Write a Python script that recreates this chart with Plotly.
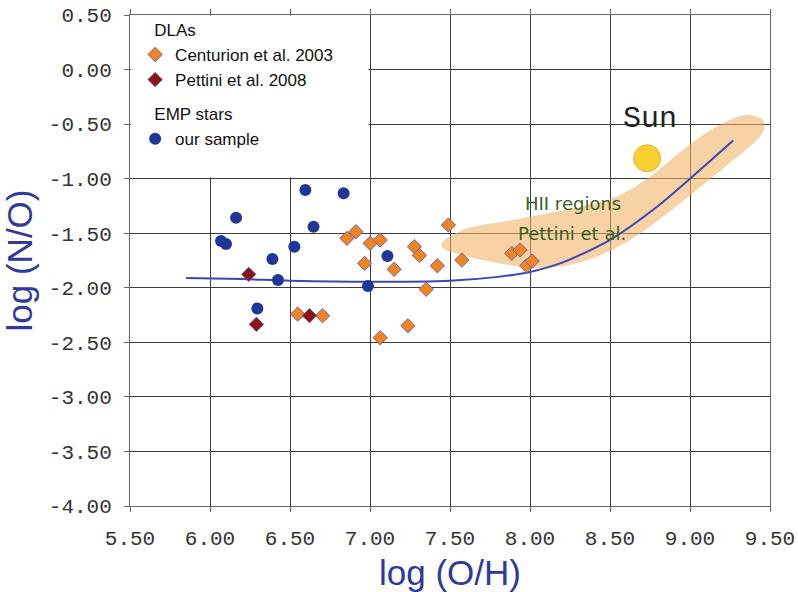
import plotly.graph_objects as go

# ---- data ----
centurion_x = [6.548, 6.704, 6.856, 6.912, 7.001, 7.064, 6.966, 7.151, 7.278, 7.309,
               7.421, 7.490, 7.574, 7.351, 7.237, 7.064, 7.886, 7.938, 7.979, 8.014]
centurion_y = [-2.241, -2.256, -1.547, -1.486, -1.593, -1.562, -1.776, -1.831, -1.624, -1.703,
               -1.798, -1.425, -1.746, -2.014, -2.348, -2.458, -1.684, -1.654, -1.798, -1.755]

pettini_x = [6.242, 6.290, 6.622]
pettini_y = [-1.877, -2.335, -2.256]

emp_x = [6.596, 6.835, 6.163, 6.647, 6.069, 6.100, 6.527, 6.390, 6.425, 6.987, 6.296, 7.109]
emp_y = [-1.104, -1.134, -1.358, -1.440, -1.571, -1.599, -1.624, -1.736, -1.929, -1.984, -2.189, -1.709]

model_x = [5.85, 6.2, 6.5, 7.0, 7.5, 7.8, 8.0, 8.2, 8.5, 8.8, 9.0, 9.27]
model_y = [-1.91, -1.92, -1.935, -1.945, -1.935, -1.90, -1.855, -1.77, -1.56, -1.25, -1.0, -0.65]

hii_band_x = [7.449, 7.582, 7.894, 8.312, 8.541, 8.749, 8.955, 9.165, 9.353, 9.454, 9.467,
              9.436, 9.248, 9.041, 8.830, 8.624, 8.416, 8.206, 8.000, 7.792, 7.582, 7.457, 7.449]
hii_band_y = [-1.593, -1.471, -1.379, -1.257, -1.165, -0.982, -0.737, -0.524, -0.417, -0.462, -0.524,
              -0.615, -0.857, -1.104, -1.349, -1.562, -1.715, -1.800, -1.815, -1.770, -1.705, -1.636, -1.593]

sun_x = [8.732]
sun_y = [-0.813]

x_tickvals = [5.5, 6.0, 6.5, 7.0, 7.5, 8.0, 8.5, 9.0, 9.5]
x_ticktext = ["5.50", "6.00", "6.50", "7.00", "7.50", "8.00", "8.50", "9.00", "9.50"]
y_tickvals = [0.5, 0.0, -0.5, -1.0, -1.5, -2.0, -2.5, -3.0, -3.5, -4.0]
y_ticktext = ["0.50", "0.00", "-0.50", "-1.00", "-1.50", "-2.00", "-2.50", "-3.00", "-3.50", "-4.00"]

NB = "\u00a0"

# ---- figure ----
fig = go.Figure()

fig.add_trace(go.Scatter(
    x=hii_band_x, y=hii_band_y, mode="lines", fill="toself",
    fillcolor="rgba(240,178,98,0.58)", line=dict(width=0, shape="spline", smoothing=1.0),
    showlegend=False, hoverinfo="skip"))

fig.add_trace(go.Scatter(
    x=model_x, y=model_y, mode="lines",
    line=dict(color="#3a47b5", width=2, shape="spline", smoothing=0.8),
    showlegend=False, hoverinfo="skip"))

fig.add_trace(go.Scatter(
    x=sun_x, y=sun_y, mode="markers",
    marker=dict(symbol="circle", size=27, color="#f8cf32", line=dict(color="#efb22e", width=1)),
    showlegend=False))

fig.add_trace(go.Scatter(
    x=emp_x, y=emp_y, mode="markers", name="our sample",
    legendgroup="emp", legendgrouptitle=dict(text=NB * 3 + "EMP stars"), legendrank=3,
    marker=dict(symbol="circle", size=12, color="#22369a", line=dict(width=0))))

fig.add_trace(go.Scatter(
    x=centurion_x, y=centurion_y, mode="markers", name="Centurion et al. 2003",
    legendgroup="dla", legendgrouptitle=dict(text=NB * 3 + "DLAs"), legendrank=1,
    marker=dict(symbol="diamond", size=11, color="#f0841f", line=dict(color="#7a62b0", width=1))))

fig.add_trace(go.Scatter(
    x=pettini_x, y=pettini_y, mode="markers", name="Pettini et al. 2008",
    legendgroup="dla", legendrank=2,
    marker=dict(symbol="diamond", size=11, color="#8c1414", line=dict(color="#6f4f9f", width=1))))

# white legend background between gridlines and traces
fig.add_shape(type="rect", xref="x", yref="y", x0=5.505, x1=6.99, y0=-0.99, y1=0.495,
              fillcolor="white", line=dict(width=0), layer="between")

fig.add_annotation(x=8.749, y=-0.456, text="Sun", showarrow=False,
                   font=dict(family="Liberation Mono", size=30, color="#222222"))
fig.add_annotation(x=8.27, y=-1.226, text="HII regions", showarrow=False,
                   font=dict(family="DejaVu Sans", size=18, color="#365f24"))
fig.add_annotation(x=8.26, y=-1.507, text="Pettini et al.", showarrow=False,
                   font=dict(family="DejaVu Sans", size=18, color="#365f24"))

axis_common = dict(
    showgrid=True, gridcolor="#3c3c3c", gridwidth=1.2,
    showline=True, linecolor="#666666", linewidth=1,
    ticks="outside", ticklen=5, tickcolor="#666666",
    zeroline=False, automargin=False,
    tickfont=dict(family="Liberation Mono", size=21, color="#333333"),
)

fig.update_xaxes(
    range=[5.5, 9.5], tickvals=x_tickvals, ticktext=x_ticktext, mirror="ticks",
    ticklabelstandoff=8,
    title=dict(text="log (O/H)", font=dict(family="Liberation Sans", size=35, color="#2e3b9c"), standoff=14),
    **axis_common)
fig.update_yaxes(
    range=[-4.0, 0.5], tickvals=y_tickvals, ticktext=y_ticktext, mirror=True,
    ticklabelstandoff=8,
    title=dict(text="log (N/O)", font=dict(family="Liberation Sans", size=35, color="#2e3b9c"), standoff=14),
    **axis_common)

fig.update_layout(
    width=798, height=592,
    margin=dict(l=129.5, r=28, t=15, b=86, autoexpand=False),
    paper_bgcolor="white", plot_bgcolor="white",
    legend=dict(
        x=0.008, y=0.98, xanchor="left", yanchor="top", yref="container",
        bgcolor="rgba(0,0,0,0)", borderwidth=0,
        font=dict(family="Liberation Sans", size=17, color="#111111"),
        grouptitlefont=dict(family="Liberation Sans", size=17, color="#111111"),
        tracegroupgap=9, itemsizing="trace",
    ),
)

fig.write_html("out.html")
